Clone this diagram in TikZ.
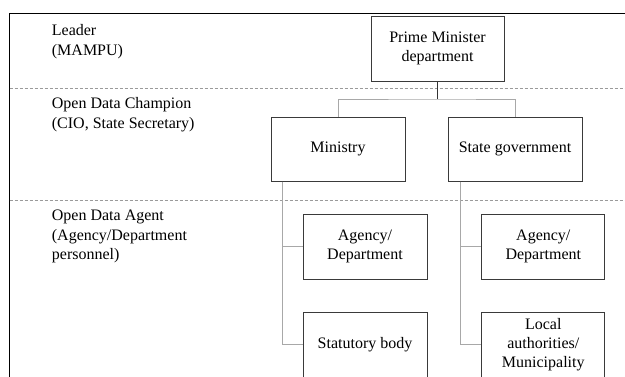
\documentclass[tikz,border=0pt]{standalone}
\usepackage{fontspec}
\setmainfont{Liberation Serif}
\definecolor{boxc}{HTML}{3A3A3A}
\definecolor{connc}{HTML}{A8A8A8}
\definecolor{sepc}{HTML}{9A9A9A}
\definecolor{darkc}{HTML}{333333}
\begin{document}
\begin{tikzpicture}[x=1pt,y=-1pt,
  boxn/.style={draw=boxc, line width=1pt, fill=white, inner sep=0pt, align=center,
    font=\fontsize{16}{19.2}\selectfont, text=black},
  conn/.style={draw=connc, line width=1pt},
  darkconn/.style={draw=darkc, line width=1pt},
  sepline/.style={draw=sepc, line width=0.8pt, dash pattern=on 3pt off 2pt},
  lbl/.style={anchor=base west, inner sep=0pt, font=\fontsize{16}{19.6}\selectfont, text=black}]
\useasboundingbox (0,0) rectangle (625,376);
\clip (0,0) rectangle (625,376);
% frame
\draw[line width=1.6pt, black] (9.5,390) -- (9.5,13.3) -- (640,13.3);
% separators
\draw[sepline] (9.5,88.5) -- (625,88.5);
\draw[sepline] (9.5,200) -- (625,200);
% left labels
\node[lbl] (leader) at (51.7,35.5) {\begin{tabular}[t]{@{}l@{}}Leader\\(MAMPU)\end{tabular}};
\node[lbl] (champion) at (51.7,108.8) {\begin{tabular}[t]{@{}l@{}}Open Data Champion\\(CIO, State Secretary)\end{tabular}};
\node[lbl] (agent) at (51.7,220.5) {\begin{tabular}[t]{@{}l@{}}Open Data Agent\\(Agency/Department\\personnel)\end{tabular}};
% boxes
\node[boxn, minimum width=133, minimum height=65] (pm) at (437.5,48.5) {Prime Minister\\department};
\node[boxn, minimum width=134, minimum height=64] (ministry) at (338,149) {Ministry};
\node[boxn, minimum width=134, minimum height=64] (state) at (515,149) {State government};
\node[boxn, minimum width=124, minimum height=65] (agl) at (365,246.5) {Agency/\\Department};
\node[boxn, minimum width=123, minimum height=65] (agr) at (543.3,246.5) {Agency/\\Department};
\node[boxn, minimum width=124, minimum height=65] (stat) at (365,344.5) {Statutory body};
\node[boxn, minimum width=123, minimum height=65] (loc) at (543.3,344.5) {Local\\authorities/\\Municipality};
% connectors
\coordinate (hb) at (437.5,99);
\path (ministry.south west) ++(11.7,0) coordinate (lt);
\path (state.south west) ++(12.7,0) coordinate (rt);
\draw[darkconn] (pm.south) -- (hb);
\draw[conn] (ministry.north) |- (hb) -| (state.north);
\draw[conn] (lt) |- (stat.west);
\draw[conn] (lt) |- (agl.west);
\draw[conn] (rt) |- (loc.west);
\draw[conn] (rt) |- (agr.west);
\end{tikzpicture}
\end{document}
